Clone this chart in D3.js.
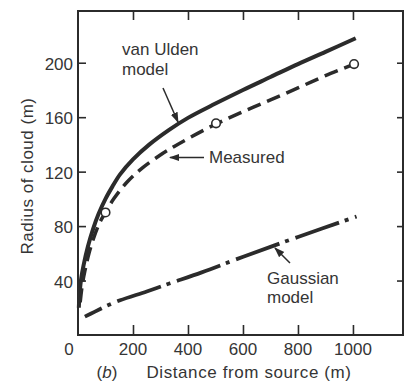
<!DOCTYPE html>
<html><head><meta charset="utf-8">
<script src="https://cdn.jsdelivr.net/npm/d3@7"></script>
<style>html,body{margin:0;padding:0;background:#fff}svg{display:block}text{font-family:"Liberation Sans",Arial,sans-serif;fill:#353535}</style>
</head><body><svg id="c" width="409" height="383"></svg>
<script>
const xTicks = [200, 400, 600, 800, 1000];
const yTicks = [40, 80, 120, 160, 200];
const vanUlden = [[3,20],[6,31],[12,42],[20,51],[36,65],[55,78],[75,89],[100,100],[125,109],[153,118],[200,129],[260,140],[330,150.5],[400,159.5],[500,170],[600,180],[700,189.5],[800,199],[900,208],[1010,218]];
const measured = [[8,24],[15,36],[25,47],[40,60],[60,73],[80,83],[100,90],[130,100],[177,112],[230,122],[298,132],[350,138.5],[407,145],[502,155],[600,164],[698,172.5],[800,181.5],[900,190.5],[1004,199]];
const measuredPts = [[100,90],[502,155.5],[1004,199]];
const gaussian = [[25,13.5],[60,17],[100,21],[153,25.5],[250,32],[335,38],[450,46],[601,57.5],[800,72],[1013,87]];

const svg = d3.select("#c");
const L=78,R=403,T=11,B=335;
const x = d3.scaleLinear().domain([0,1182]).range([L,R]);
const y = d3.scaleLinear().domain([0,238]).range([B,T]);
const ink="#2b2b2b";

// frame
svg.append("rect").attr("x",L).attr("y",T).attr("width",R-L).attr("height",B-T)
  .attr("fill","none").attr("stroke",ink).attr("stroke-width",2);

// axes with inward ticks
const ax = (g)=>g.selectAll(".domain").remove();
svg.append("g").attr("transform",`translate(0,${B})`)
  .call(d3.axisTop(x).tickValues(xTicks).tickSize(10).tickFormat(""))
  .call(ax).selectAll("line").attr("stroke",ink).attr("stroke-width",1.6);
svg.append("g").attr("transform",`translate(0,${T})`)
  .call(d3.axisBottom(x).tickValues(xTicks).tickSize(9).tickFormat(""))
  .call(ax).selectAll("line").attr("stroke",ink).attr("stroke-width",1.6);
svg.append("g").attr("transform",`translate(${L},0)`)
  .call(d3.axisRight(y).tickValues(yTicks).tickSize(8).tickFormat(""))
  .call(ax).selectAll("line").attr("stroke",ink).attr("stroke-width",1.6);
svg.append("g").attr("transform",`translate(${R},0)`)
  .call(d3.axisLeft(y).tickValues(yTicks).tickSize(6).tickFormat(""))
  .call(ax).selectAll("line").attr("stroke",ink).attr("stroke-width",1.6);

// tick labels
svg.selectAll(".xl").data(xTicks).join("text").attr("x",d=>x(d)).attr("y",355)
  .attr("text-anchor","middle").attr("font-size",17).text(d=>d);
svg.append("text").attr("x",x(0)-9).attr("y",355).attr("text-anchor","middle").attr("font-size",17).text("0");
svg.selectAll(".yl").data(yTicks).join("text").attr("x",73).attr("y",d=>y(d)+7)
  .attr("text-anchor","end").attr("font-size",17).text(d=>d);

// axis titles
svg.append("text").attr("x",107).attr("y",378).attr("text-anchor","middle").attr("font-size",17)
  .html('(<tspan font-style="italic">b</tspan>)');
svg.append("text").attr("x",249).attr("y",378).attr("text-anchor","middle").attr("font-size",17)
  .attr("letter-spacing",0.6).text("Distance from source (m)");
svg.append("text").attr("transform",`translate(33,176) rotate(-90)`).attr("text-anchor","middle").attr("font-size",17)
  .attr("letter-spacing",0.5).text("Radius of cloud (m)");

// lines
const line = d3.line().x(d=>x(d[0])).y(d=>y(d[1])).curve(d3.curveCatmullRom.alpha(0.5));
svg.append("path").attr("d",line(vanUlden)).attr("fill","none").attr("stroke",ink).attr("stroke-width",4);
svg.append("path").attr("d",line(measured)).attr("fill","none").attr("stroke",ink).attr("stroke-width",3.5)
  .attr("stroke-dasharray","14,7");
svg.append("path").attr("d",line(gaussian)).attr("fill","none").attr("stroke",ink).attr("stroke-width",3.8)
  .attr("stroke-dasharray","46,6,4,7").attr("stroke-dashoffset",27);
svg.selectAll(".pt").data(measuredPts).join("circle").attr("cx",d=>x(d[0])).attr("cy",d=>y(d[1])).attr("r",4.3)
  .attr("fill","#fff").attr("stroke",ink).attr("stroke-width",1.6);

// annotations
svg.append("defs").append("marker").attr("id","ah").attr("viewBox","0 0 10 10").attr("refX",9).attr("refY",5)
  .attr("markerWidth",7).attr("markerHeight",7).attr("orient","auto")
  .append("path").attr("d","M0,1.5 L10,5 L0,8.5 z").attr("fill",ink);
function arrow(x1,y1,x2,y2){svg.append("line").attr("x1",x1).attr("y1",y1).attr("x2",x2).attr("y2",y2)
  .attr("stroke",ink).attr("stroke-width",1.5).attr("marker-end","url(#ah)");}
svg.append("text").attr("x",122).attr("y",55).attr("font-size",17).text("van Ulden");
svg.append("text").attr("x",122).attr("y",75).attr("font-size",17).text("model");
arrow(163,88,178,122);
svg.append("text").attr("x",209).attr("y",163).attr("font-size",17).text("Measured");
arrow(204,157.5,170,157.5);
svg.append("text").attr("x",267).attr("y",284).attr("font-size",17).text("Gaussian");
svg.append("text").attr("x",267).attr("y",303).attr("font-size",17).text("model");
arrow(290,263,275,248);
</script></body></html>
